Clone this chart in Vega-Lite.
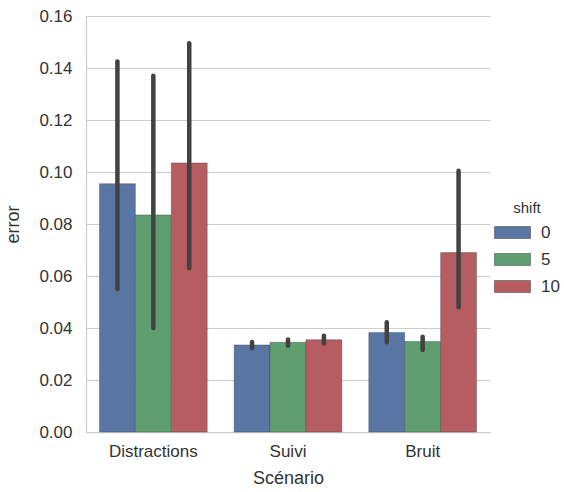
{
  "$schema": "https://vega.github.io/schema/vega-lite/v6.json",
  "autosize": {"type": "none"},
  "width": 404,
  "height": 416,
  "padding": {"left": 86, "top": 16, "right": 74, "bottom": 60},
  "background": "white",
  "data": {
    "values": [
      {"scenario": "Distractions", "shift": "0", "error": 0.0955, "lo": 0.0550, "hi": 0.1425},
      {"scenario": "Distractions", "shift": "5", "error": 0.0835, "lo": 0.0400, "hi": 0.1370},
      {"scenario": "Distractions", "shift": "10", "error": 0.1035, "lo": 0.0630, "hi": 0.1495},
      {"scenario": "Suivi", "shift": "0", "error": 0.0335, "lo": 0.0322, "hi": 0.0346},
      {"scenario": "Suivi", "shift": "5", "error": 0.0345, "lo": 0.0332, "hi": 0.0356},
      {"scenario": "Suivi", "shift": "10", "error": 0.0355, "lo": 0.0340, "hi": 0.0370},
      {"scenario": "Bruit", "shift": "0", "error": 0.0383, "lo": 0.0345, "hi": 0.0422},
      {"scenario": "Bruit", "shift": "5", "error": 0.0348, "lo": 0.0315, "hi": 0.0366},
      {"scenario": "Bruit", "shift": "10", "error": 0.0690, "lo": 0.0480, "hi": 0.1005}
    ]
  },
  "encoding": {
    "x": {
      "field": "scenario", "type": "nominal", "sort": ["Distractions", "Suivi", "Bruit"],
      "scale": {"paddingInner": 0.2, "paddingOuter": 0.1},
      "axis": {"title": "Scénario", "labelAngle": 0, "ticks": false, "labelPadding": 11, "titlePadding": 10}
    },
    "xOffset": {"field": "shift", "type": "nominal", "sort": ["0", "5", "10"], "scale": {"paddingInner": 0, "paddingOuter": 0}}
  },
  "layer": [
    {
      "mark": {"type": "bar", "stroke": "#3a3a3a", "strokeOpacity": 0.35, "strokeWidth": 1},
      "encoding": {
        "y": {
          "field": "error", "type": "quantitative",
          "scale": {"domain": [0, 0.16], "nice": false},
          "axis": {"title": "error", "format": ".2f", "values": [0, 0.02, 0.04, 0.06, 0.08, 0.1, 0.12, 0.14, 0.16], "ticks": false, "labelPadding": 14, "titlePadding": 16}
        },
        "color": {
          "field": "shift", "type": "nominal", "sort": ["0", "5", "10"],
          "scale": {"domain": ["0", "5", "10"], "range": ["#5975a4", "#5f9e6e", "#b55d60"]},
          "legend": {
            "title": "shift", "orient": "none", "legendX": 408, "legendY": 185,
            "symbolType": "M-1,-0.333H1V0.333H-1Z", "symbolSize": 1296,
            "symbolStrokeColor": "#3a3a3a", "symbolStrokeWidth": 0.5, "symbolOpacity": 1,
            "titleAnchor": "middle", "titlePadding": -2, "rowPadding": 0, "labelOffset": 10
          }
        }
      }
    },
    {
      "mark": {"type": "rule", "color": "#424242", "strokeWidth": 4.5, "strokeCap": "round"},
      "encoding": {
        "y": {"field": "lo", "type": "quantitative"},
        "y2": {"field": "hi"}
      }
    }
  ],
  "config": {
    "font": "Liberation Sans",
    "view": {"stroke": null},
    "axis": {
      "labelFont": "Liberation Sans", "titleFont": "Liberation Sans",
      "labelFontSize": 17, "titleFontSize": 18, "titleFontWeight": "normal",
      "labelColor": "#333333", "titleColor": "#333333",
      "domainColor": "#cccccc", "domainWidth": 1.25,
      "gridColor": "#cccccc", "gridWidth": 1
    },
    "axisX": {"grid": false},
    "axisY": {"grid": true},
    "legend": {
      "labelFont": "Liberation Sans", "titleFont": "Liberation Sans",
      "labelFontSize": 17, "titleFontSize": 15, "titleFontWeight": "normal",
      "labelColor": "#333333", "titleColor": "#333333", "padding": 0
    }
  }
}
